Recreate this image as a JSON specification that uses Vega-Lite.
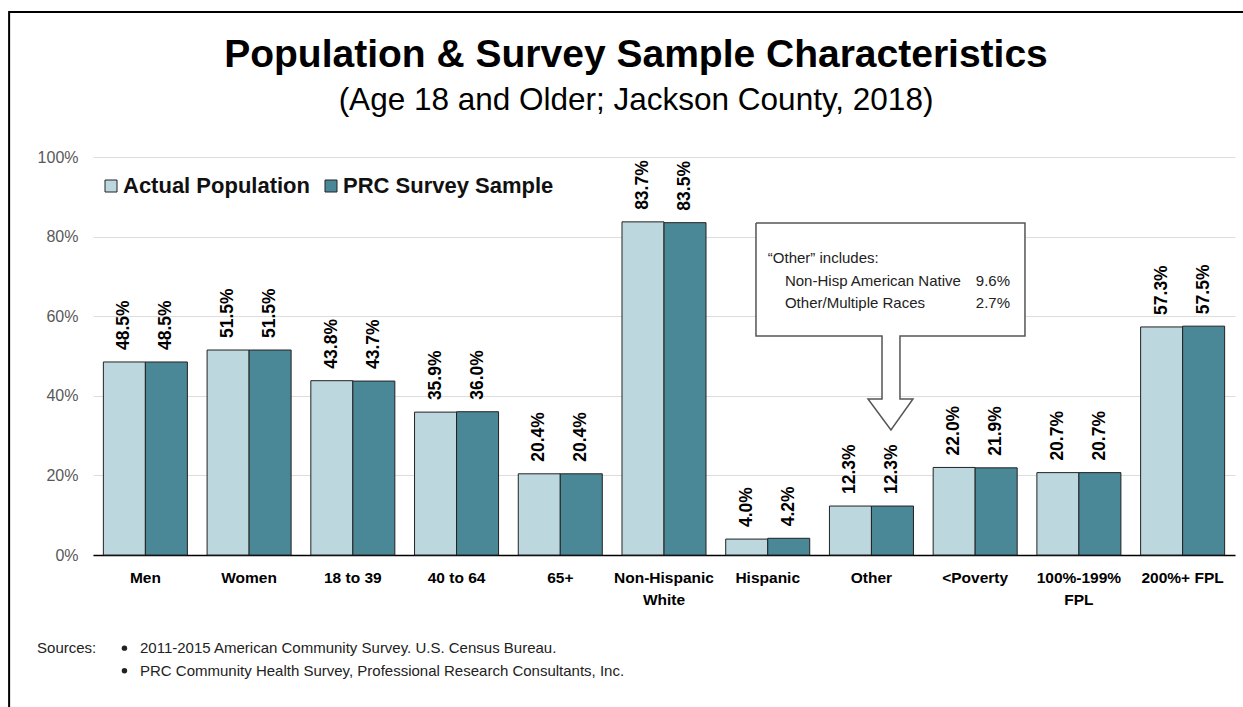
{
  "$schema": "https://vega.github.io/schema/vega-lite/v6.json",
  "width": 1142,
  "height": 398,
  "autosize": {"type": "none"},
  "padding": {"left": 93, "top": 157, "right": 8, "bottom": 152},
  "background": "white",
  "title": {
    "text": "Population & Survey Sample Characteristics",
    "subtitle": "(Age 18 and Older; Jackson County, 2018)",
    "font": "Liberation Sans",
    "fontSize": 39,
    "fontWeight": "bold",
    "color": "#000000",
    "subtitleFont": "Liberation Sans",
    "subtitleFontSize": 31.5,
    "subtitleColor": "#000000",
    "subtitlePadding": 10,
    "anchor": "middle",
    "dx": -28,
    "offset": -109
  },
  "datasets": {
    "bars": [
      {"group": "Men", "series": "Actual Population", "value": 0.485},
      {"group": "Men", "series": "PRC Survey Sample", "value": 0.485},
      {"group": "Women", "series": "Actual Population", "value": 0.515},
      {"group": "Women", "series": "PRC Survey Sample", "value": 0.515},
      {"group": "18 to 39", "series": "Actual Population", "value": 0.438},
      {"group": "18 to 39", "series": "PRC Survey Sample", "value": 0.437},
      {"group": "40 to 64", "series": "Actual Population", "value": 0.359},
      {"group": "40 to 64", "series": "PRC Survey Sample", "value": 0.360},
      {"group": "65+", "series": "Actual Population", "value": 0.204},
      {"group": "65+", "series": "PRC Survey Sample", "value": 0.204},
      {"group": "Non-Hispanic White", "series": "Actual Population", "value": 0.837},
      {"group": "Non-Hispanic White", "series": "PRC Survey Sample", "value": 0.835},
      {"group": "Hispanic", "series": "Actual Population", "value": 0.040},
      {"group": "Hispanic", "series": "PRC Survey Sample", "value": 0.042},
      {"group": "Other", "series": "Actual Population", "value": 0.123},
      {"group": "Other", "series": "PRC Survey Sample", "value": 0.123},
      {"group": "<Poverty", "series": "Actual Population", "value": 0.220},
      {"group": "<Poverty", "series": "PRC Survey Sample", "value": 0.219},
      {"group": "100%-199% FPL", "series": "Actual Population", "value": 0.207},
      {"group": "100%-199% FPL", "series": "PRC Survey Sample", "value": 0.207},
      {"group": "200%+ FPL", "series": "Actual Population", "value": 0.573},
      {"group": "200%+ FPL", "series": "PRC Survey Sample", "value": 0.575}
    ],
    "callout": [
      {"i": 1, "u": 6.386, "v": 0.834},
      {"i": 2, "u": 8.977, "v": 0.834},
      {"i": 3, "u": 8.977, "v": 0.550},
      {"i": 4, "u": 7.773, "v": 0.550},
      {"i": 5, "u": 7.773, "v": 0.392},
      {"i": 6, "u": 7.898, "v": 0.392},
      {"i": 7, "u": 7.686, "v": 0.314},
      {"i": 8, "u": 7.465, "v": 0.392},
      {"i": 9, "u": 7.600, "v": 0.392},
      {"i": 10, "u": 7.600, "v": 0.550},
      {"i": 11, "u": 6.386, "v": 0.550},
      {"i": 12, "u": 6.386, "v": 0.834}
    ],
    "calloutLeft": [
      {"t": "“Other” includes:", "u": 6.50, "v": 0.746},
      {"t": "Non-Hisp American Native", "u": 6.665, "v": 0.688},
      {"t": "Other/Multiple Races", "u": 6.665, "v": 0.633}
    ],
    "calloutRight": [
      {"t": "9.6%", "u": 8.833, "v": 0.688},
      {"t": "2.7%", "u": 8.833, "v": 0.633}
    ],
    "sources": [
      {"t": "Sources:", "u": -0.539, "v": -0.234},
      {"t": "2011-2015 American Community Survey. U.S. Census Bureau.", "u": 0.453, "v": -0.234},
      {"t": "PRC Community Health Survey, Professional Research Consultants, Inc.", "u": 0.453, "v": -0.291}
    ],
    "bullets": [
      {"u": 0.303, "v": -0.234},
      {"u": 0.303, "v": -0.291}
    ],
    "frame": [
      {"i": 1, "u": -0.808, "v": -0.40},
      {"i": 2, "u": -0.808, "v": 1.3645},
      {"i": 3, "u": 11.2, "v": 1.3645}
    ]
  },
  "layer": [
    {
      "data": {"name": "bars"},
      "encoding": {
        "x": {
          "field": "group",
          "type": "nominal",
          "sort": ["Men", "Women", "18 to 39", "40 to 64", "65+", "Non-Hispanic White", "Hispanic", "Other", "<Poverty", "100%-199% FPL", "200%+ FPL"],
          "scale": {"paddingInner": 0.19, "paddingOuter": 0.1},
          "axis": {
            "title": null,
            "labelAngle": 0,
            "labelFont": "Liberation Sans",
            "labelFontSize": 15.5,
            "labelFontWeight": "bold",
            "labelColor": "#000000",
            "labelPadding": 15,
            "labelLineHeight": 22,
            "labelExpr": "datum.value == 'Non-Hispanic White' ? ['Non-Hispanic', 'White'] : datum.value == '100%-199% FPL' ? ['100%-199%', 'FPL'] : datum.value",
            "ticks": false,
            "domain": true,
            "domainColor": "#000000",
            "domainWidth": 1.5,
            "grid": false
          }
        },
        "xOffset": {"field": "series", "type": "nominal", "sort": ["Actual Population", "PRC Survey Sample"]},
        "y": {
          "field": "value",
          "type": "quantitative",
          "scale": {"domain": [0, 1], "nice": false},
          "axis": {
            "title": null,
            "format": ".0%",
            "values": [0, 0.2, 0.4, 0.6, 0.8, 1],
            "labelFont": "Liberation Sans",
            "labelFontSize": 16,
            "labelColor": "#595959",
            "labelPadding": 15,
            "ticks": false,
            "domain": false,
            "grid": true,
            "gridColor": "#DDDDDD",
            "gridWidth": 1
          }
        }
      },
      "layer": [
        {
          "mark": {"type": "bar", "stroke": "#222222", "strokeWidth": 1},
          "encoding": {
            "color": {
              "field": "series",
              "type": "nominal",
              "scale": {"domain": ["Actual Population", "PRC Survey Sample"], "range": ["#BDD7DE", "#4A8797"]},
              "legend": {
                "title": null,
                "orient": "none",
                "direction": "horizontal",
                "legendX": 7,
                "legendY": 18,
                "padding": 0,
                "symbolType": "square",
                "symbolSize": 144,
                "symbolStrokeColor": "#222222",
                "symbolStrokeWidth": 1,
                "labelFont": "Liberation Sans",
                "labelFontSize": 22,
                "labelFontWeight": "bold",
                "labelColor": "#111111",
                "labelOffset": 1,
                "columnPadding": 10,
                "labelLimit": 400
              }
            }
          }
        },
        {
          "mark": {
            "type": "text",
            "angle": 270,
            "align": "left",
            "baseline": "middle",
            "dx": 12,
            "font": "Liberation Sans",
            "fontSize": 17.5,
            "fontWeight": "bold",
            "color": "#000000"
          },
          "encoding": {
            "text": {"field": "value", "type": "quantitative", "format": ".1%"}
          }
        }
      ]
    },
    {
      "data": {"name": "frame"},
      "mark": {"type": "line", "stroke": "#000000", "strokeWidth": 2, "clip": false},
      "encoding": {
        "x": {"field": "u", "type": "quantitative", "scale": {"domain": [0, 11], "nice": false, "zero": false}, "axis": null},
        "y": {"field": "v", "type": "quantitative", "scale": {"domain": [0, 1], "nice": false}, "axis": null},
        "order": {"field": "i"}
      }
    },
    {
      "data": {"name": "callout"},
      "mark": {"type": "line", "stroke": "#555555", "strokeWidth": 1.5, "fill": "#FFFFFF", "clip": false},
      "encoding": {
        "x": {"field": "u", "type": "quantitative", "scale": {"domain": [0, 11], "nice": false, "zero": false}, "axis": null},
        "y": {"field": "v", "type": "quantitative", "scale": {"domain": [0, 1], "nice": false}, "axis": null},
        "order": {"field": "i"}
      }
    },
    {
      "data": {"name": "calloutLeft"},
      "mark": {"type": "text", "align": "left", "baseline": "middle", "font": "Liberation Sans", "fontSize": 15, "color": "#222222"},
      "encoding": {
        "x": {"field": "u", "type": "quantitative", "scale": {"domain": [0, 11], "nice": false, "zero": false}, "axis": null},
        "y": {"field": "v", "type": "quantitative", "scale": {"domain": [0, 1], "nice": false}, "axis": null},
        "text": {"field": "t"}
      }
    },
    {
      "data": {"name": "calloutRight"},
      "mark": {"type": "text", "align": "right", "baseline": "middle", "font": "Liberation Sans", "fontSize": 15, "color": "#222222"},
      "encoding": {
        "x": {"field": "u", "type": "quantitative", "scale": {"domain": [0, 11], "nice": false, "zero": false}, "axis": null},
        "y": {"field": "v", "type": "quantitative", "scale": {"domain": [0, 1], "nice": false}, "axis": null},
        "text": {"field": "t"}
      }
    },
    {
      "data": {"name": "sources"},
      "mark": {"type": "text", "align": "left", "baseline": "middle", "font": "Liberation Sans", "fontSize": 15, "color": "#222222", "clip": false},
      "encoding": {
        "x": {"field": "u", "type": "quantitative", "scale": {"domain": [0, 11], "nice": false, "zero": false}, "axis": null},
        "y": {"field": "v", "type": "quantitative", "scale": {"domain": [0, 1], "nice": false}, "axis": null},
        "text": {"field": "t"}
      }
    },
    {
      "data": {"name": "bullets"},
      "mark": {"type": "point", "shape": "circle", "filled": true, "size": 30, "color": "#222222", "opacity": 1, "clip": false},
      "encoding": {
        "x": {"field": "u", "type": "quantitative", "scale": {"domain": [0, 11], "nice": false, "zero": false}, "axis": null},
        "y": {"field": "v", "type": "quantitative", "scale": {"domain": [0, 1], "nice": false}, "axis": null}
      }
    }
  ],
  "resolve": {"scale": {"x": "independent", "y": "independent"}, "axis": {"x": "independent", "y": "independent"}},
  "config": {
    "view": {"stroke": null},
    "font": "Liberation Sans"
  }
}
